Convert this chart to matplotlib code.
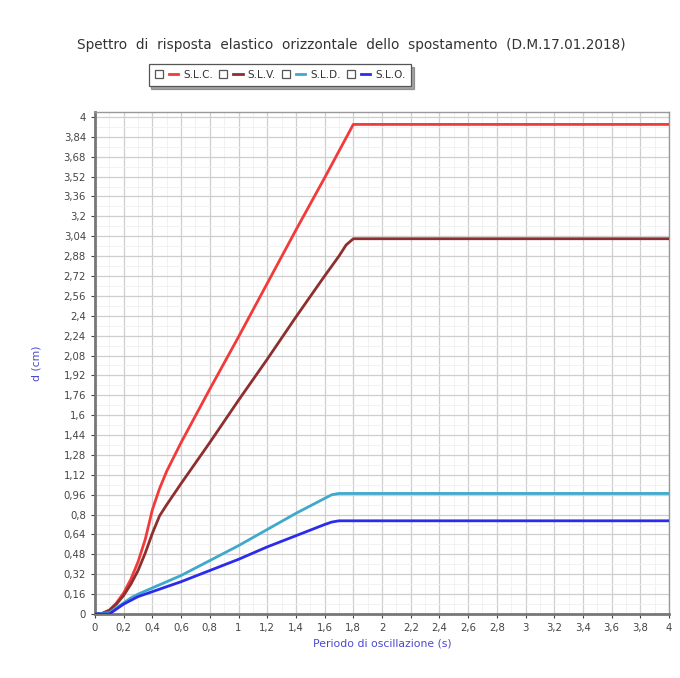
import numpy as np
import matplotlib
matplotlib.use("Agg")
import matplotlib.pyplot as plt
from matplotlib.lines import Line2D
from matplotlib.legend_handler import HandlerTuple
from matplotlib.ticker import FixedLocator, FuncFormatter, MultipleLocator

# values
labels = ["S.L.C.", "S.L.V.", "S.L.D.", "S.L.O."]
colors = ["#f23a3a", "#8e2e2e", "#3fa9cc", "#2b2bee"]

t_slc = [0, 0.05, 0.1, 0.15, 0.2, 0.25, 0.3, 0.35, 0.4, 0.45, 0.5, 0.6, 0.8, 1.0, 1.2, 1.4, 1.6, 1.8, 4.0]
d_slc = [0, 0.005, 0.03, 0.09, 0.17, 0.28, 0.42, 0.6, 0.84, 1.01, 1.15, 1.38, 1.81, 2.23, 2.66, 3.09, 3.51, 3.94, 3.94]

t_slv = [0, 0.05, 0.1, 0.15, 0.2, 0.25, 0.3, 0.35, 0.4, 0.45, 0.5, 0.6, 0.8, 1.0, 1.2, 1.4, 1.6, 1.7, 1.75, 1.8, 4.0]
d_slv = [0, 0.005, 0.03, 0.08, 0.15, 0.24, 0.35, 0.49, 0.65, 0.79, 0.88, 1.05, 1.38, 1.72, 2.05, 2.39, 2.72, 2.88, 2.97, 3.02, 3.02]

t_sld = [0, 0.1, 0.15, 0.2, 0.25, 0.3, 0.4, 0.5, 0.6, 0.8, 1.0, 1.2, 1.4, 1.6, 1.65, 1.7, 4.0]
d_sld = [0, 0.01, 0.05, 0.09, 0.13, 0.16, 0.21, 0.26, 0.31, 0.43, 0.55, 0.68, 0.81, 0.93, 0.96, 0.97, 0.97]

t_slo = [0, 0.1, 0.15, 0.2, 0.25, 0.3, 0.4, 0.5, 0.6, 0.8, 1.0, 1.2, 1.4, 1.6, 1.65, 1.7, 4.0]
d_slo = [0, 0.0, 0.04, 0.08, 0.11, 0.14, 0.18, 0.22, 0.26, 0.35, 0.44, 0.54, 0.63, 0.72, 0.74, 0.75, 0.75]

x_ticks = [round(0.2 * i, 2) for i in range(21)]
y_ticks = [round(0.16 * i, 2) for i in range(26)]

title = "Spettro  di  risposta  elastico  orizzontale  dello  spostamento  (D.M.17.01.2018)"


def comma_fmt(v, pos):
    s = ("%.2f" % v).rstrip("0").rstrip(".")
    return s.replace(".", ",")


fig = plt.figure(figsize=(6.8, 6.78), dpi=100)
ax = fig.add_axes([95 / 680, 64 / 678, 574 / 680, 502 / 678])

series = [(t_slc, d_slc), (t_slv, d_slv), (t_sld, d_sld), (t_slo, d_slo)]
handles = []
for (t, d), c in zip(series, colors):
    ax.plot(t, d, color=c, lw=2, solid_joinstyle="round", zorder=3)
    box = Line2D([], [], marker="s", ms=6, mfc="white", mec="#555555", mew=0.9, ls="")
    line = Line2D([], [], color=c, lw=2)
    handles.append((box, line))

ax.set_xlim(0, 4)
ax.set_ylim(0, 4.04)
ax.xaxis.set_major_locator(FixedLocator(x_ticks))
ax.yaxis.set_major_locator(FixedLocator(y_ticks))
ax.xaxis.set_minor_locator(MultipleLocator(0.1))
ax.yaxis.set_minor_locator(MultipleLocator(0.08))
ax.xaxis.set_major_formatter(FuncFormatter(comma_fmt))
ax.yaxis.set_major_formatter(FuncFormatter(comma_fmt))
ax.tick_params(which="major", labelsize=7.3, colors="#444444", length=3, width=0.8)
ax.tick_params(which="minor", length=0)
ax.grid(which="major", color="#cfcfcf", lw=0.9)
ax.grid(which="minor", color="#f0f0f0", lw=0.6)
ax.set_axisbelow(True)

for side in ["left", "bottom"]:
    ax.spines[side].set_color("#777777")
    ax.spines[side].set_linewidth(2)
for side in ["top", "right"]:
    ax.spines[side].set_color("#999999")
    ax.spines[side].set_linewidth(1)

ax.set_xlabel("Periodo di oscillazione (s)", fontsize=7.8, color="#4a4ad0", labelpad=4)
ax.set_ylabel("d (cm)", fontsize=7.8, color="#4a4ad0", labelpad=16)

fig.text(351 / 680, 1 - 45 / 678, title, ha="center", va="center", fontsize=9.8, color="#333333")

leg = fig.legend(handles, labels, loc="center", bbox_to_anchor=(280 / 680, 1 - 75 / 678),
                 ncol=4, frameon=True, fancybox=False, shadow=True, fontsize=7.5,
                 handler_map={tuple: HandlerTuple(ndivide=None, pad=0.5)},
                 handlelength=2.3, handletextpad=0.5, columnspacing=0.5,
                 borderpad=0.55, labelcolor="#333333")
leg.get_frame().set_edgecolor("#555555")
leg.get_frame().set_linewidth(0.9)

fig.savefig("out.png", dpi=100)
